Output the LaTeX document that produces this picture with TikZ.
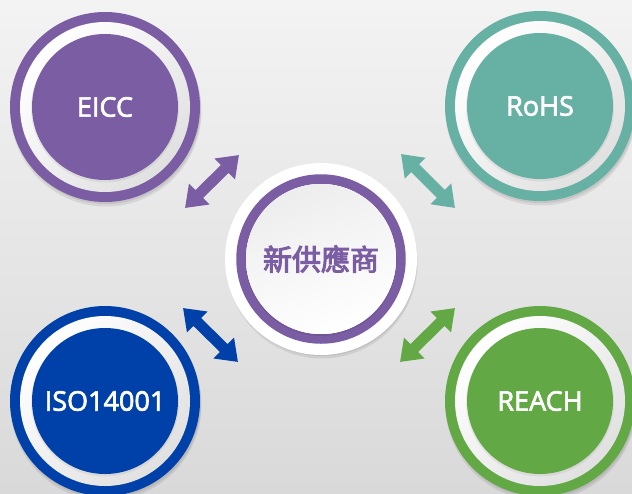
\documentclass[tikz,border=0pt]{standalone}
\usepackage{fontspec}
\setmainfont{Open Sans}
\newfontfamily\lab[FakeBold=2.5]{Open Sans}
\newfontfamily\cjk[FakeBold=3.5]{Noto Sans CJK TC}
\usetikzlibrary{arrows.meta,shapes.geometric}
\definecolor{cpurple}{HTML}{7A5DA3}
\definecolor{cteal}{HTML}{67B0A4}
\definecolor{cblue}{HTML}{0041A9}
\definecolor{cgreen}{HTML}{62A945}
\definecolor{bgtop}{HTML}{F3F3F3}
\definecolor{bgbot}{HTML}{D9D9D9}
\tikzset{
  outerdisk/.style={circle, minimum size=190pt, inner sep=0pt},
  innerdisk/.style={circle, minimum size=146pt, inner sep=0pt, text=white, font=\lab\fontsize{27}{30}\selectfont},
  ringshade/.style={left color=white, right color=black!12, shading angle=45},
  shadowdisk/.style={fill=black, opacity=0.08},
  dblarrow/.style={line width=11pt, {Triangle[width=28pt,length=20pt]}-{Triangle[width=28pt,length=20pt]}},
}
\begin{document}
\begin{tikzpicture}[x=1pt,y=-1pt]
\useasboundingbox (0,0) rectangle (632,493);
\clip (0,0) rectangle (632,493);
\shade[top color=bgtop, bottom color=bgbot] (0,0) rectangle (632,493);

% shadows
\foreach \p in {(105,107),(540,106),(105,401),(540,401),(321,259)}{
  \fill[shadowdisk] \p ++(1,4) circle (95.5pt);
  \fill[shadowdisk] \p ++(1,2) circle (95pt);
}

% corner items
\foreach \nm/\pos/\col/\txt in {eicc/{(105,107)}/cpurple/EICC, rohs/{(540,106)}/cteal/RoHS, iso/{(105,401)}/cblue/ISO14001, reach/{(540,401)}/cgreen/REACH}{
  \node[outerdisk, fill=\col] (\nm O) at \pos {};
  \shade[ringshade] (\nm O.center) circle (85pt);
  \fill[black, opacity=0.06] (\nm O.center) ++(0,1.5) circle (74pt);
  \node[innerdisk, fill=\col] (\nm) at (\nm O.center) {\txt};
}

% center item
\node[outerdisk, fill=white, minimum size=192pt] (hubO) at (321,259) {};
\draw[cpurple, line width=9.5pt] (hubO.center) circle (80pt);
\fill[black, opacity=0.07] (hubO.center) ++(0,1.5) circle (75.5pt);
\node[circle, minimum size=150pt, inner sep=0pt, top color=black!7, bottom color=white, shading angle=20] (hub) at (hubO.center) {};
\node[text=cpurple, font=\cjk\fontsize{29}{30}\selectfont] (hubtext) at (hub.center) {新供應商};

% arrows
\coordinate (a1) at (185,208); \coordinate (a2) at (239,155);
\coordinate (b1) at (401,154); \coordinate (b2) at (455,208);
\coordinate (c1) at (183,308); \coordinate (c2) at (238,362);
\coordinate (d1) at (400,362); \coordinate (d2) at (455,308);
\draw[dblarrow, cpurple] (a1) -- (a2);
\draw[dblarrow, cteal] (b1) -- (b2);
\draw[dblarrow, cblue] (c1) -- (c2);
\draw[dblarrow, cgreen] (d1) -- (d2);
\end{tikzpicture}
\end{document}
